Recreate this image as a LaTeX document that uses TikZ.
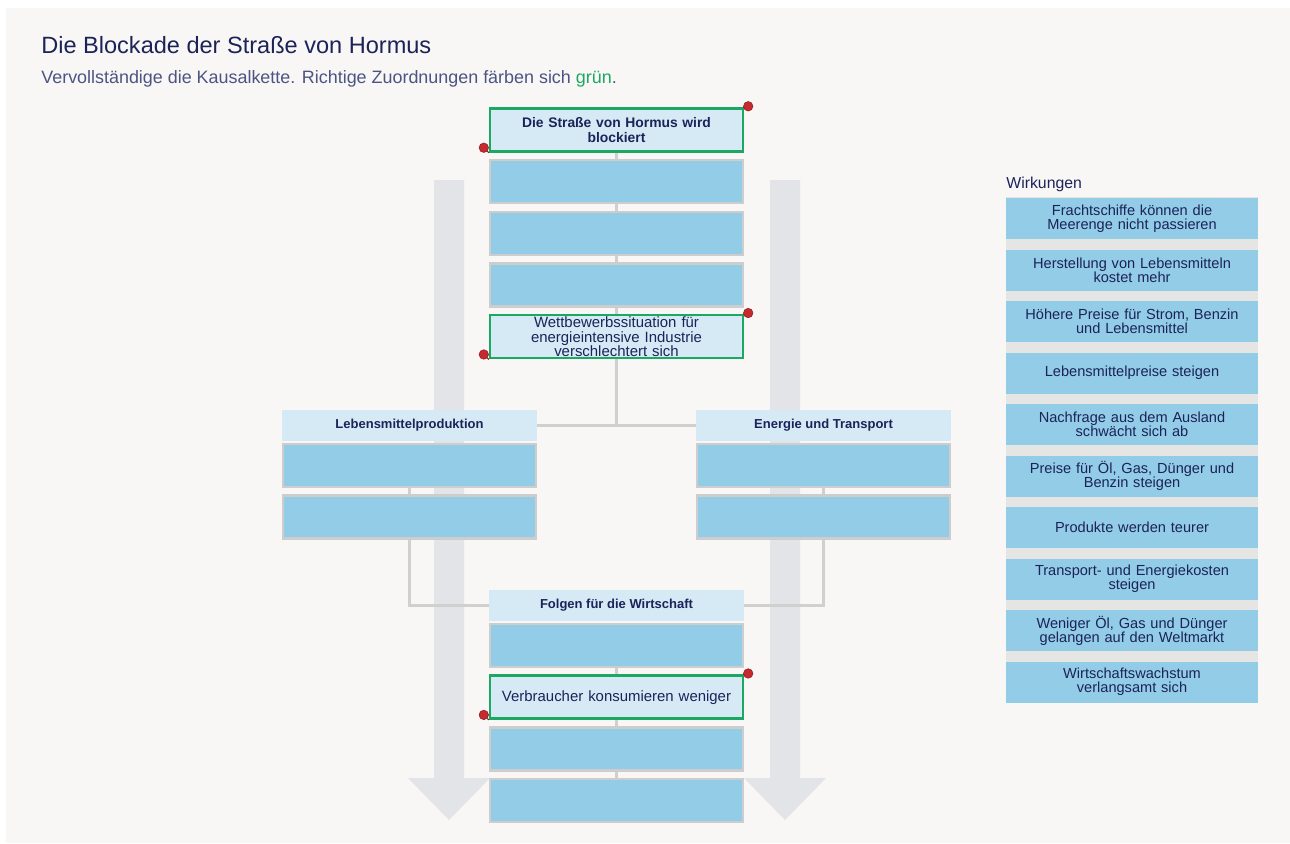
\documentclass[tikz,border=0pt]{standalone}
\usepackage{fontspec}
\setmainfont{Liberation Sans}
\usetikzlibrary{positioning}

\definecolor{panelbg}{HTML}{F8F7F5}
\definecolor{navy}{HTML}{1B2359}
\definecolor{subgray}{HTML}{4B5483}
\definecolor{okgreen}{HTML}{1BA862}
\definecolor{lightblue}{HTML}{D5EAF5}
\definecolor{slotblue}{HTML}{93CCE7}
\definecolor{slotgray}{HTML}{CDCDCD}
\definecolor{arrowgray}{HTML}{E3E4E8}
\definecolor{conngray}{HTML}{D0D0D0}
\definecolor{cardgap}{HTML}{E5E5E3}
\definecolor{dotred}{HTML}{C62A2F}
\definecolor{dotdark}{HTML}{8A1C1F}

\begin{document}
\begin{tikzpicture}[x=0.02cm, y=-0.02cm,
    every node/.style={text=navy},
    slot/.style={draw=slotgray, line width=1.2pt, fill=slotblue, minimum width=5.06cm, minimum height=0.86cm, inner sep=1pt},
    solved/.style={slot, draw=okgreen, line width=1.4pt, fill=lightblue, text width=4.8cm, align=center, font=\fontsize{8.5}{8.1}\selectfont},
    header/.style={fill=lightblue, minimum width=5.1cm, minimum height=0.62cm, inner sep=1pt, font=\fontsize{7.4}{8}\selectfont\bfseries},
    card/.style={fill=slotblue, minimum width=5.04cm, minimum height=0.82cm, inner sep=1pt, text width=4.9cm, align=center, font=\fontsize{8.3}{8.0}\selectfont},
    conn/.style={draw=conngray, line width=1.2pt},
    bigarrow/.style={fill=arrowgray},
    pindot/.style={circle, fill=dotred, draw=dotdark, line width=0.3pt, minimum size=0.19cm, inner sep=0pt},
    pinline/.style={draw=dotdark, line width=0.6pt}
]

% Background
\useasboundingbox (0,0) rectangle (1290,843);
\fill[panelbg] (6,8) rectangle (1290,843);

% Title
\node[anchor=base west, inner sep=0, font=\fontsize{13.4}{15}\selectfont] (title) at (41,53) {Die Blockade der Straße von Hormus};
\node[anchor=base west, inner sep=0, text=subgray, font=\fontsize{10.2}{12}\selectfont] (subtitle) at (41,83) {Vervollständige die Kausalkette. Richtige Zuordnungen färben sich \textcolor{okgreen}{grün}.};

% Big arrows
\fill[bigarrow] (434,180) -- (464,180) -- (464,778) -- (490,778) -- (449,820) -- (408,778) -- (434,778) -- cycle;
\fill[bigarrow] (770,180) -- (800,180) -- (800,778) -- (826,778) -- (785,820) -- (744,778) -- (770,778) -- cycle;

% Main chain
\node[solved, font=\fontsize{7.9}{8.1}\selectfont\bfseries] (top) at (616.5,130) {Die Straße von Hormus wird\\blockiert};
\node[slot, below=0.13cm of top] (s1) {};
\node[slot, below=0.13cm of s1] (s2) {};
\node[slot, below=0.13cm of s2] (s3) {};
\node[solved, below=0.13cm of s3] (wett) {Wettbewerbssituation für\\energieintensive Industrie\\verschlechtert sich};

% Lebensmittelproduktion
\node[header] (leb) at (409.5,425.5) {Lebensmittelproduktion};
\node[slot, below=0.03cm of leb] (leb1) {};
\node[slot, below=0.13cm of leb1] (leb2) {};

% Energie und Transport
\node[header] (en) at (823.5,425.5) {Energie und Transport};
\node[slot, below=0.03cm of en] (en1) {};
\node[slot, below=0.13cm of en1] (en2) {};

% Folgen fuer die Wirtschaft
\node[header] (folgen) at (616.5,605.5) {Folgen für die Wirtschaft};
\node[slot, below=0.03cm of folgen] (f1) {};
\node[solved, below=0.13cm of f1] (verb) {Verbraucher konsumieren weniger};
\node[slot, below=0.13cm of verb] (f3) {};
\node[slot, below=0.13cm of f3] (f4) {};

% Connectors
\draw[conn] (top) -- (s1);
\draw[conn] (s1) -- (s2);
\draw[conn] (s2) -- (s3);
\draw[conn] (s3) -- (wett);
\draw[conn] (wett.south) -- (wett.south |- leb.east);
\draw[conn] (leb.east) -- (en.west);
\draw[conn] (leb1) -- (leb2);
\draw[conn] (en1) -- (en2);
\draw[conn] (leb2.south) |- (folgen.west);
\draw[conn] (en2.south) |- (folgen.east);
\draw[conn] (f1) -- (verb);
\draw[conn] (verb) -- (f3);
\draw[conn] (f3) -- (f4);

% Pins on the solved boxes
\foreach \b in {top, wett, verb} {
  \node[pindot] (\b-ne) at ([shift={(4,-1)}]\b.north east) {};
  \node[pindot] (\b-sw) at ([shift={(-5,-5)}]\b.south west) {};
  \draw[pinline] (\b-ne) -- (\b.north east);
  \draw[pinline] (\b-sw) -- (\b.south west);
}

% Wirkungen
\node[anchor=base west, inner sep=0, font=\fontsize{9}{10}\selectfont] (wirk) at (1006,188) {Wirkungen};
\fill[cardgap] (1006,197) rectangle (1258,702);
\foreach \txt [count=\i] in {
    {Frachtschiffe können die\\Meerenge nicht passieren},
    {Herstellung von Lebensmitteln\\kostet mehr},
    {Höhere Preise für Strom, Benzin\\und Lebensmittel},
    {Lebensmittelpreise steigen},
    {Nachfrage aus dem Ausland\\schwächt sich ab},
    {Preise für Öl, Gas, Dünger und\\Benzin steigen},
    {Produkte werden teurer},
    {Transport- und Energiekosten\\steigen},
    {Weniger Öl, Gas und Dünger\\gelangen auf den Weltmarkt},
    {Wirtschaftswachstum\\verlangsamt sich}} {
  \node[card] (card\i) at (1132,{218.5+(\i-1)*51.5}) {\txt};
}

\end{tikzpicture}
\end{document}
